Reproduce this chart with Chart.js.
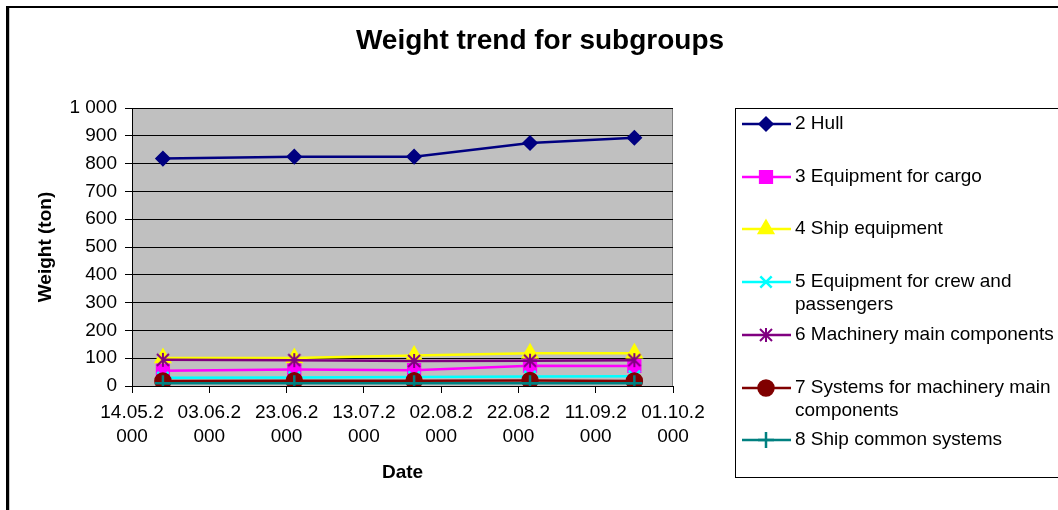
<!DOCTYPE html>
<html>
<head>
<meta charset="utf-8">
<title>Weight trend for subgroups</title>
<script src="https://cdn.jsdelivr.net/npm/chart.js@4/dist/chart.umd.min.js"></script>
<style>
  html, body { margin: 0; padding: 0; background: #fff; }
  canvas { display: block; }
</style>
</head>
<body>
<canvas id="weightChart" width="1058" height="510"></canvas>
<script>
// dates of each weight report
const dates = ["22.05.2000", "25.06.2000", "26.07.2000", "25.08.2000", "21.09.2000"];

// weights in tons per subgroup
const hull = [818, 825, 825, 874, 893];
const cargo = [55, 59, 57, 73, 72];
const shipEquipment = [101, 101, 110, 118, 118];
const crew = [30, 31, 32, 34, 35];
const machinery = [94, 93, 90, 91, 93];
const machinerySystems = [18, 19, 19, 20, 18];
const commonSystems = [10, 10, 10, 10, 10];

const seriesNames = [
    "2 Hull",
    "3 Equipment for cargo",
    "4 Ship equipment",
    "5 Equipment for crew and passengers",
    "6 Machinery main components",
    "7 Systems for machinery main components",
    "8 Ship common systems"
];

// x axis tick labels (every 20 days)
const xTickLabels = ["14.05.2000", "03.06.2000", "23.06.2000", "13.07.2000",
                     "02.08.2000", "22.08.2000", "11.09.2000", "01.10.2000"];

const FONT = "'Liberation Sans', Arial, sans-serif";

function dayNum(s) {
    const [d, m, y] = s.split(".").map(Number);
    return Date.UTC(y, m - 1, d) / 86400000;
}
const startDay = dayNum(xTickLabels[0]);
const endDay = dayNum(xTickLabels[xTickLabels.length - 1]);

function points(values) {
    return values.map((v, i) => ({ x: dayNum(dates[i]) - startDay, y: v }));
}

// Excel style asterisk marker (vertical bar + X)
function asterisk(color) {
    const c = document.createElement("canvas");
    c.width = 16; c.height = 16;
    const g = c.getContext("2d");
    g.strokeStyle = color;
    g.lineWidth = 2;
    g.beginPath();
    g.moveTo(8, 1); g.lineTo(8, 15);
    g.moveTo(2, 2); g.lineTo(14, 14);
    g.moveTo(14, 2); g.lineTo(2, 14);
    g.stroke();
    return c;
}

function series(i, values, color, style, radius, extra) {
    return Object.assign({
        label: seriesNames[i],
        data: points(values),
        borderColor: color,
        backgroundColor: color,
        pointBackgroundColor: color,
        pointBorderColor: color,
        pointStyle: style,
        pointRadius: radius,
        pointBorderWidth: 1.5,
        borderWidth: 2.5,
        order: 10 - i
    }, extra || {});
}

const datasets = [
    series(0, hull, "#000080", "rectRot", 7),
    series(1, cargo, "#FF00FF", "rect", 9),
    series(2, shipEquipment, "#FFFF00", "triangle", 9),
    series(3, crew, "#00FFFF", "crossRot", 8, { pointBorderWidth: 2.5 }),
    series(4, machinery, "#800080", asterisk("#800080"), 8),
    series(5, machinerySystems, "#800000", "circle", 8),
    series(6, commonSystems, "#008080", "cross", 8, { pointBorderWidth: 2.5 })
];

// plot background, frame, title and the Excel-like legend
const excelLook = {
    id: "excelLook",
    beforeDraw(chart) {
        const { ctx, chartArea: a } = chart;
        ctx.save();
        ctx.fillStyle = "#C0C0C0";
        ctx.fillRect(a.left, a.top, a.right - a.left, a.bottom - a.top);
        ctx.strokeStyle = "#808080";
        ctx.lineWidth = 1;
        ctx.strokeRect(a.left + 0.5, a.top + 0.5, a.right - a.left - 1, a.bottom - a.top);
        ctx.restore();
    },
    afterDraw(chart) {
        const ctx = chart.ctx;
        ctx.save();
        // outer frame (left and top edges visible)
        ctx.fillStyle = "#000";
        ctx.fillRect(6, 6, 1052, 2);
        ctx.fillRect(6, 6, 3, 504);
        ctx.fillStyle = "#C8C8C8";
        ctx.fillRect(9, 8, 1, 502);

        // title
        ctx.fillStyle = "#000";
        ctx.font = "bold 28px " + FONT;
        ctx.textAlign = "center";
        ctx.textBaseline = "middle";
        ctx.fillText("Weight trend for subgroups", 540, 41);

        // legend box
        ctx.strokeStyle = "#000";
        ctx.lineWidth = 1;
        ctx.strokeRect(735.5, 108.5, 400, 369);

        ctx.font = "19px " + FONT;
        ctx.textAlign = "left";
        chart.data.datasets.forEach((ds, i) => {
            const y = Math.round(124 + i * 52.7);
            ctx.strokeStyle = ds.borderColor;
            ctx.lineWidth = 2.5;
            ctx.beginPath();
            ctx.moveTo(742, y);
            ctx.lineTo(791, y);
            ctx.stroke();
            ctx.fillStyle = ds.pointBackgroundColor;
            ctx.strokeStyle = ds.pointBorderColor;
            ctx.lineWidth = ds.pointBorderWidth;
            Chart.helpers.drawPoint(ctx, { pointStyle: ds.pointStyle, radius: ds.pointRadius, rotation: 0, borderWidth: ds.pointBorderWidth }, 766, y);

            // wrap label to legend width
            const words = ds.label.split(" ");
            const lines = [];
            let line = "";
            words.forEach(w => {
                const test = line ? line + " " + w : w;
                if (ctx.measureText(test).width > 266 && line) {
                    lines.push(line);
                    line = w;
                } else {
                    line = test;
                }
            });
            lines.push(line);
            ctx.fillStyle = "#000";
            lines.forEach((t, k) => ctx.fillText(t, 795, y + k * 23));
        });
        ctx.restore();
    }
};

new Chart(document.getElementById("weightChart"), {
    type: "line",
    data: { datasets: datasets },
    plugins: [excelLook],
    options: {
        responsive: false,
        devicePixelRatio: 1,
        animation: false,
        layout: { padding: { left: 8, top: 108, right: 385, bottom: 0 } },
        plugins: {
            legend: { display: false },
            title: { display: false },
            tooltip: { enabled: false }
        },
        scales: {
            x: {
                type: "linear",
                min: 0,
                max: endDay - startDay,
                afterFit: s => { s.height = 124; },
                grid: { drawOnChartArea: false, color: "#000", tickLength: 7 },
                border: { color: "#000", width: 1 },
                ticks: {
                    stepSize: 20,
                    autoSkip: false,
                    maxRotation: 0,
                    padding: 8,
                    color: "#000",
                    font: { family: FONT, size: 19, lineHeight: 1.26 },
                    callback: v => {
                        const s = xTickLabels[Math.round(v / 20)] || "";
                        return [s.slice(0, 7), s.slice(7)];
                    }
                },
                title: {
                    display: true,
                    text: "Date",
                    color: "#000",
                    font: { family: FONT, size: 19, weight: "bold", lineHeight: 1.2 },
                    padding: { top: 0, bottom: 26 }
                }
            },
            y: {
                min: 0,
                max: 1000,
                afterFit: s => { s.width = 124; },
                grid: { color: "#000", tickLength: 7 },
                border: { color: "#000", width: 1 },
                ticks: {
                    stepSize: 100,
                    padding: 8,
                    color: "#000",
                    font: { family: FONT, size: 19 },
                    callback: v => String(v).replace(/\B(?=(\d{3})+(?!\d))/g, " ")
                },
                title: {
                    display: true,
                    text: "Weight (ton)",
                    color: "#000",
                    font: { family: FONT, size: 19, weight: "bold", lineHeight: 1.2 },
                    padding: { top: 26, bottom: 0 }
                }
            }
        }
    }
});
</script>
</body>
</html>
